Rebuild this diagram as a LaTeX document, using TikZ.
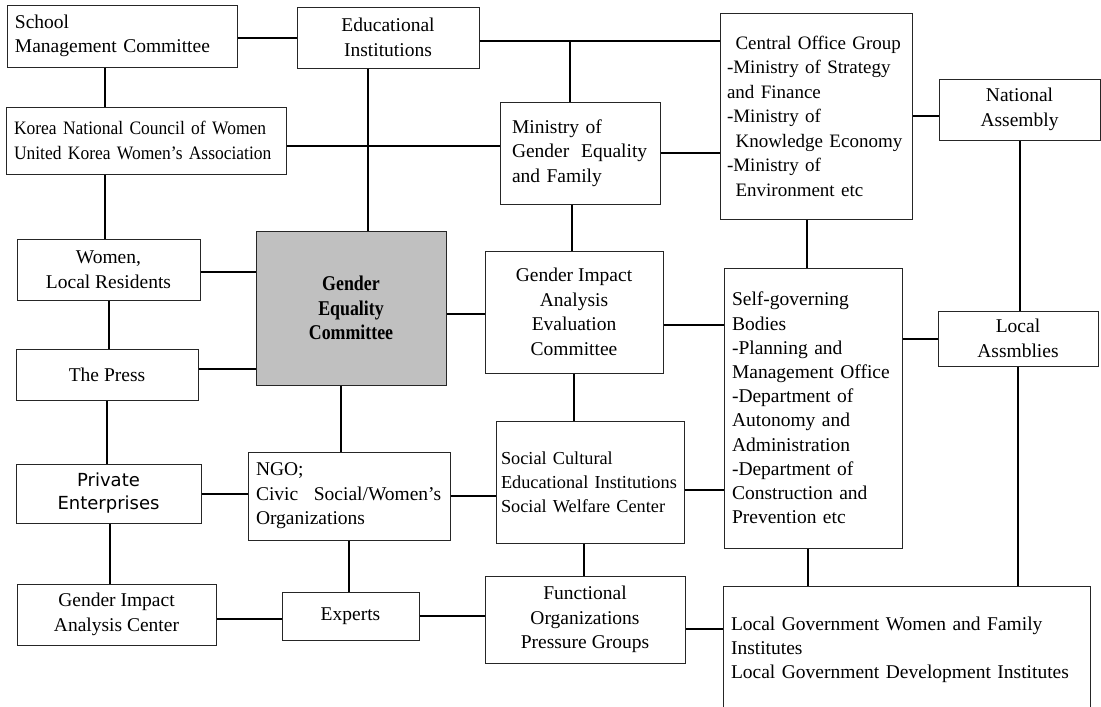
\documentclass[tikz,border=0pt]{standalone}
\usepackage{fontspec}
\setmainfont{Liberation Serif}
\newfontfamily\condfont[FakeStretch=0.92,Ligatures=TeX]{Liberation Serif}
\newfontfamily\gecfont[FakeStretch=0.85,Ligatures=TeX]{Liberation Serif}
\newfontfamily\dotumfont{DejaVu Sans}
\definecolor{gecgray}{HTML}{C0C0C0}
\hyphenpenalty=10000
\exhyphenpenalty=10000
\begin{document}
\begin{tikzpicture}[x=1pt,y=-1pt,
  box/.style={draw=black!85, line width=1pt, fill=white, inner sep=0pt,
              font=\fontsize{19.5}{24.5}\selectfont},
  link/.style={line width=2pt, black},
]
\useasboundingbox (0,0) rectangle (1101,707);
\clip (0,0) rectangle (1101,707);

% ---- nodes ----
\node[box, minimum width=230pt, minimum height=62pt, text width=214pt, align=left]
  (smc) at (122,36) {School\\Management Committee};
\node[box, minimum width=182pt, minimum height=61pt, align=center]
  (ei) at (388,37.5) {Educational\\Institutions};
\node[box, minimum width=280pt, minimum height=67pt, text width=264pt, align=left,
  font=\condfont\fontsize{19}{24.5}\selectfont]
  (knc) at (146,140.5) {Korea National Council of Women\\United Korea Women’s Association};
\node[box, minimum width=160pt, minimum height=102pt, text width=136pt, align=left]
  (mog) at (580,153) {Ministry of\\Gender\hspace{0.6em}Equality\\and Family};
\node[box, minimum width=192pt, minimum height=206pt, text width=178pt, align=left,
  font=\fontsize{19}{24.5}\selectfont]
  (co) at (816,116) {\hspace*{0.45em}Central Office Group\\-Ministry of Strategy\\and Finance\\-Ministry of\\\hspace*{0.45em}Knowledge Economy\\-Ministry of\\\hspace*{0.45em}Environment etc};
\node[box, minimum width=161pt, minimum height=61pt, align=center]
  (na) at (1019.5,109.5) {National\\Assembly};
\node[box, minimum width=183pt, minimum height=61pt, align=center]
  (wom) at (108.5,269.5) {Women,\\Local Residents};
\node[box, fill=gecgray, minimum width=190pt, minimum height=154pt, align=center,
  font=\gecfont\bfseries\fontsize{21}{24.5}\selectfont]
  (gec) at (351,308) {Gender\\Equality\\Committee};
\node[box, minimum width=182pt, minimum height=51pt, align=center]
  (press) at (107,374.5) {The Press};
\node[box, minimum width=178pt, minimum height=122pt, align=center]
  (gia) at (574,312) {Gender Impact\\Analysis\\Evaluation\\Committee};
\node[box, minimum width=178pt, minimum height=280pt, text width=162pt, align=left,
  font=\fontsize{19.5}{24.2}\selectfont]
  (sg) at (813,408) {Self-governing\\Bodies\\-Planning and\\Management Office\\-Department of\\Autonomy and\\Administration\\-Department of\\Construction and\\Prevention etc};
\node[box, minimum width=160pt, minimum height=55pt, align=center]
  (la) at (1018,338.5) {Local\\Assmblies};
\node[box, minimum width=185pt, minimum height=59pt, align=center,
  font=\dotumfont\fontsize{18}{23}\selectfont]
  (priv) at (108.5,493.5) {Private\\Enterprises};
\node[box, minimum width=202pt, minimum height=88pt, text width=186pt, align=left]
  (ngo) at (349,496) {NGO;\\Civic\hspace{0.8em}Social/Women’s\\Organizations};
\node[box, minimum width=188pt, minimum height=122pt, text width=178pt, align=left,
  font=\fontsize{18.3}{24}\selectfont]
  (sc) at (590,482) {Social Cultural\\Educational Institutions\\Social Welfare Center};
\node[box, minimum width=199pt, minimum height=61pt, align=center]
  (giac) at (116.5,614.5) {Gender Impact\\Analysis Center};
\node[box, minimum width=137pt, minimum height=48pt, align=center]
  (exp) at (350.5,616) {Experts};
\node[box, minimum width=200pt, minimum height=87pt, align=center]
  (fo) at (585,619.5) {Functional\\Organizations\\Pressure Groups};
\node[box, minimum width=367pt, minimum height=128pt, text width=351pt, align=left,
  font=\fontsize{19.5}{24}\selectfont]
  (lg) at (906.5,650) {Local Government Women and Family\\Institutes\\Local Government Development Institutes};

% ---- helper points ----
\coordinate (c2) at ([xshift=-17pt]smc.south);
\coordinate (t1) at ([yshift=-3.5pt]ei.east);
\coordinate (c3) at ([xshift=-10pt]mog.north);
\coordinate (c4) at ([xshift=-20pt]ei.south);
\coordinate (c5) at ([yshift=-5.5pt]knc.east);
\coordinate (c6) at ([xshift=-41pt]knc.south);
\coordinate (c7) at ([yshift=-2.5pt]wom.east);
\coordinate (c8) at ([yshift=5.5pt]press.east);
\coordinate (c9) at ([xshift=1.5pt]priv.south);
\coordinate (c10) at ([xshift=-10pt]gec.south);
\coordinate (c11) at ([yshift=-2pt]gia.west);
\coordinate (c12) at ([xshift=-8pt]mog.south);
\coordinate (c13) at ([xshift=-9pt]co.south);
\coordinate (c14) at ([yshift=-13pt]gia.east);
\coordinate (c15) at ([yshift=-8pt]sc.east);
\coordinate (c16) at ([xshift=-6pt]sc.south);
\coordinate (c17) at ([xshift=-5pt]sg.south);
\coordinate (c18) at ([yshift=-4.5pt]giac.east);
\coordinate (c19) at ([yshift=-9.5pt]fo.east);

% ---- connectors ----
\draw[link] (smc.east |- ei.west) -- (ei.west);
\draw[link] (c2) -- (c2 |- knc.north);
\draw[link] (t1) -- (t1 -| co.west);
\draw[link] (c3) -- (c3 |- t1);
\draw[link] (c4) -- (c4 |- gec.north);
\draw[link] (c5) -- (c5 -| mog.west);
\draw[link] (mog.east) -- (mog.east -| co.west);
\draw[link] (co.east) -- (co.east -| na.west);
\draw[link] (c6) -- (c6 |- wom.north);
\draw[link] (wom.south) -- (wom.south |- press.north);
\draw[link] (c7) -- (c7 -| gec.west);
\draw[link] (c8) -- (c8 -| gec.west);
\draw[link] (press.south) -- (press.south |- priv.north);
\draw[link] (c9) -- (c9 |- giac.north);
\draw[link] (priv.east) -- (priv.east -| ngo.west);
\draw[link] (c10) -- (c10 |- ngo.north);
\draw[link] (c11 -| gec.east) -- (c11);
\draw[link] (c12) -- (c12 |- gia.north);
\draw[link] (c13) -- (c13 |- sg.north);
\draw[link] (c14) -- (c14 -| sg.west);
\draw[link] (na.south) -- (na.south |- la.north);
\draw[link] (la.west -| sg.east) -- (la.west);
\draw[link] (la.south) -- (la.south |- lg.north);
\draw[link] (gia.south) -- (gia.south |- sc.north);
\draw[link] (ngo.east) -- (ngo.east -| sc.west);
\draw[link] (c15) -- (c15 -| sg.west);
\draw[link] (c16) -- (c16 |- fo.north);
\draw[link] (c17) -- (c17 |- lg.north);
\draw[link] (ngo.south) -- (ngo.south |- exp.north);
\draw[link] (c18) -- (c18 -| exp.west);
\draw[link] (exp.east) -- (exp.east -| fo.west);
\draw[link] (c19) -- (c19 -| lg.west);
\end{tikzpicture}
\end{document}
